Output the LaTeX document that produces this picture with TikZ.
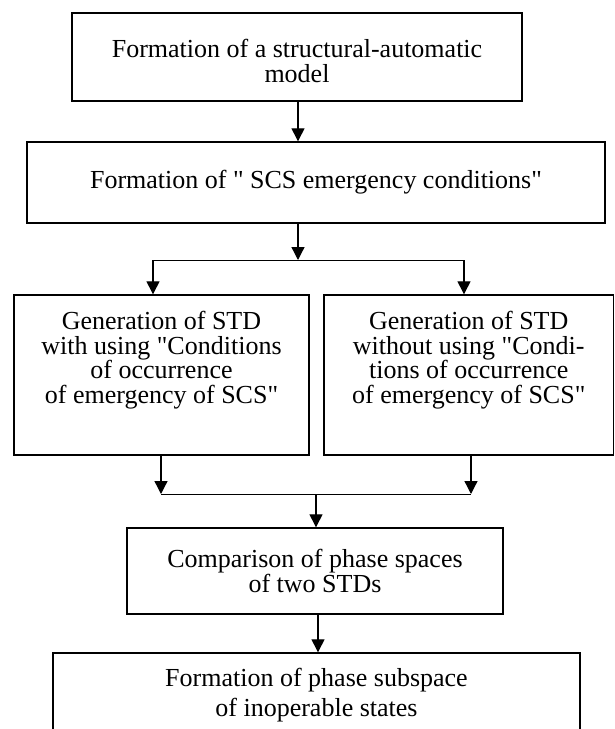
\documentclass[tikz,border=0pt]{standalone}
\usepackage{fontspec}
\setmainfont{Liberation Serif}[Ligatures=TeXOff]
\usetikzlibrary{arrows.meta, positioning, calc}

\begin{document}
\begin{tikzpicture}[x=1pt, y=-1pt,
  blk/.style={draw, line width=1.4pt, align=center, inner sep=0pt,
    font=\fontsize{26}{24.5}\selectfont},
  txt/.style={align=center, inner sep=0pt, font=\fontsize{26}{24.5}\selectfont},
  arr/.style={line width=1.3pt, -{Triangle[length=13pt,width=13pt]}},
  lnk/.style={line width=0.8pt}]
\useasboundingbox (0,0) rectangle (615,729);
\clip (0,0) rectangle (615,729);
% blocks
\node[blk, minimum width=450pt, minimum height=88pt] (form) at (297,57) {};
\node[txt] (formt) at ($(form)+(0,4)$) {Formation of a structural-automatic\\model};
\node[blk, minimum width=578pt, minimum height=81pt] (cond) at (316,182.5)
  {Formation of " SCS emergency conditions"};
\node[blk, minimum width=295pt, minimum height=160pt] (genw) at (161.5,375) {};
\node[blk, minimum width=289.5pt, minimum height=160pt] (geno) at (468.75,375) {};
\node[txt] (genwt) at ($(genw)+(0,-15)$)
  {Generation of STD\\with using "Conditions\\of occurrence\\of emergency of SCS"};
\node[txt] (genot) at ($(geno)+(0,-15)$)
  {Generation of STD\\without using "Condi-\\tions of occurrence\\of emergency of SCS"};
\node[blk, minimum width=376pt, minimum height=86pt,
  font=\fontsize{26}{23}\selectfont] (comp) at (315,571)
  {Comparison of phase spaces\\of two STDs};
\node[blk, minimum width=527pt, minimum height=84pt,
  font=\fontsize{26}{30}\selectfont] (sub) at (316.5,695)
  {Formation of phase subspace\\of inoperable states};
% branch points
\coordinate (j) at (298,260);
\coordinate (jl) at (153,260);
\coordinate (jr) at (464,260);
\coordinate (kl) at (161,494);
\coordinate (kr) at (471,494);
\coordinate (k) at (316,494);
% connectors
\draw[arr] (form.south -| j) -- (cond.north -| j);
\draw[arr] (cond.south -| j) -- (j);
\draw[lnk] (jl) -- (jr);
\draw[arr] (jl) -- (jl |- genw.north);
\draw[arr] (jr) -- (jr |- geno.north);
\draw[arr] (kl |- genw.south) -- (kl);
\draw[arr] (kr |- geno.south) -- (kr);
\draw[lnk] (kl) -- (kr);
\draw[arr] (k) -- (k |- comp.north);
\draw[arr] ($(comp.south)+(3,0)$) -- ($(comp.south |- sub.north)+(3,0)$);
\end{tikzpicture}
\end{document}
